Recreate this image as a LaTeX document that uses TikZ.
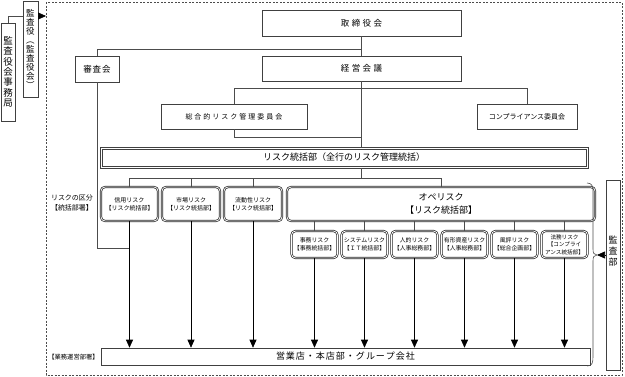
\documentclass[tikz,border=0pt]{standalone}
\usepackage{fontspec}
\setmainfont{Noto Sans CJK JP}
\usetikzlibrary{arrows.meta}
\begin{document}
\begin{tikzpicture}[x=1pt,y=-1pt,
  box/.style={draw=black!75, line width=0.6pt, inner sep=0pt, align=center},
  rbox/.style={draw=black!85, line width=0.7pt, double=white, double distance=0.8pt,
    rounded corners=4pt, inner sep=0pt, align=center, font=\fontsize{6}{8}\selectfont},
  sbox/.style={rbox, minimum width=46, minimum height=27, font=\fontsize{5.9}{7.8}\selectfont},
  conn/.style={draw=black!70, line width=0.6pt},
  arr/.style={draw=black, line width=0.6pt, -{Triangle[width=7pt,length=8pt]}},
  lbl/.style={inner sep=0pt, align=center}]
\useasboundingbox (0,0) rectangle (625,376);
% outer dashed frame
\draw[black!70, line width=0.6pt, dash pattern=on 2pt off 1.5pt] (46,2) rectangle (622,375);
\coordinate (dashL) at (46,16);
\coordinate (h49) at (0,49);
\coordinate (h88) at (0,88);
\coordinate (h137) at (0,137);
\coordinate (h178) at (0,178);
\coordinate (h248) at (0,248);
% audit boxes (left)
\node[box, minimum width=15, minimum height=96, font=\fontsize{8.5}{9.1}\selectfont] (kansayaku) at (30.5,49)
  {監\\査\\役\\︵\\監\\査\\役\\会\\︶};
\node[box, minimum width=14, minimum height=98, font=\fontsize{9.5}{10.4}\selectfont] (jimu) at (8,72)
  {監\\査\\役\\会\\事\\務\\局};
% top boxes
\node[box, minimum width=199, minimum height=26, font=\fontsize{8.5}{10}\selectfont] (tori) at (361.5,23)
  {取\kern2.5pt 締\kern2.5pt 役\kern2.5pt 会};
\node[box, minimum width=199, minimum height=25, font=\fontsize{8.5}{10}\selectfont] (keiei) at (361.5,68.5)
  {経\kern2.5pt 営\kern2.5pt 会\kern2.5pt 議};
\node[box, minimum width=44, minimum height=26, font=\fontsize{8.5}{10}\selectfont] (shinsa) at (97,69)
  {審\kern1pt 査\kern1pt 会};
\node[box, minimum width=146, minimum height=25, font=\fontsize{7}{9}\selectfont] (sogo) at (234,116.5)
  {総\kern2pt 合\kern2pt 的\kern2pt リ\kern2pt ス\kern2pt ク\kern2pt 管\kern2pt 理\kern2pt 委\kern2pt 員\kern2pt 会};
\node[box, minimum width=100, minimum height=25, font=\fontsize{7}{9}\selectfont] (compl) at (527,116.5)
  {コンプライアンス委員会};
\node[box, minimum width=488, minimum height=21, font=\fontsize{9}{11}\selectfont] (risk) at (344,157.5)
  {リスク統括部（全行のリスク管理統括）};
\draw[black!75, line width=0.5pt] ([shift={(2.2,2.2)}]risk.north west) rectangle ([shift={(-2.2,-2.2)}]risk.south east);
% risk category boxes
\node[lbl, font=\fontsize{7}{10}\selectfont] (kubun) at (72,203) {リスクの区分\\【統括部署】};
\node[rbox, minimum width=57, minimum height=34] (shinyo) at (129.5,204) {信用リスク\\【リスク統括部】};
\node[rbox, minimum width=58, minimum height=34] (shijo) at (191,204) {市場リスク\\【リスク統括部】};
\node[rbox, minimum width=58, minimum height=34] (ryudo) at (253,204) {流動性リスク\\【リスク統括部】};
\node[rbox, minimum width=308, minimum height=34, font=\fontsize{9}{13}\selectfont] (ope) at (441,204)
  {オペリスク\\【リスク統括部】};
% operational sub-boxes
\node[sbox] (s1) at (314.5,244.5) {事務リスク\\【事務統括部】};
\node[sbox] (s2) at (364.5,244.5) {システムリスク\\【ＩＴ統括部】};
\node[sbox] (s3) at (414.5,244.5) {人的リスク\\【人事総務部】};
\node[sbox] (s4) at (464.5,244.5) {有形資産リスク\\【人事総務部】};
\node[sbox] (s5) at (514.5,244.5) {風評リスク\\【総合企画部】};
\node[sbox, font=\fontsize{5.6}{7.4}\selectfont] (s6) at (564.5,244.5) {法務リスク\\【コンプライ\\アンス統括部】};
% bottom
\node[lbl, font=\fontsize{6.3}{8}\selectfont] (gyomu) at (73.5,357) {【業務運営部署】};
\node[box, minimum width=489, minimum height=17, font=\fontsize{9}{11}\selectfont] (eigyo) at (345.5,356.5)
  {営\kern1pt 業\kern1pt 店\kern1pt ・\kern1pt 本\kern1pt 店\kern1pt 部\kern1pt ・\kern1pt グ\kern1pt ル\kern1pt ー\kern1pt プ\kern1pt 会\kern1pt 社};
% audit department (right)
\node[box, minimum width=14, minimum height=190] (kansabu) at (613,275) {};
\node[lbl, font=\fontsize{9}{11}\selectfont] (kansabuT) at (613,251) {監\\査\\部};
\coordinate (bracetip) at (597,255);
\draw[conn] (587,183) .. controls (592,183) and (593,186) .. (593,192) -- (593,249)
  .. controls (593,253) and (594,255) .. (bracetip)
  .. controls (594,255) and (593,257) .. (593,261) -- (593,357)
  .. controls (593,363) and (592,366) .. (587,366);
\draw[arr] (kansabu.west |- bracetip) -- (bracetip);
% connectors
\draw[arr] (kansayaku.east |- dashL) -- (dashL);
\draw[conn] (jimu.north) |- (kansayaku.west |- dashL);
\draw[conn] (tori.south) -- (keiei.north);
\draw[conn] (tori.south |- h49) -| (shinsa.north);
\draw[conn] (sogo.north) -- (sogo.north |- h88) -| (compl.north);
\draw[conn] (keiei.south) -- (keiei.south |- risk.north);
\draw[conn] (sogo.south) |- (keiei.south |- h137);
\draw[conn] (keiei.south |- risk.south) -- (keiei.south |- h178);
\draw[conn] (shinyo.north) |- (ope.north |- h178) -- (ope.north);
\draw[conn] (shijo.north) -- (shijo.north |- h178);
\draw[conn] (ryudo.north) -- (ryudo.north |- h178);
\foreach \s in {s1,s2,s3,s4,s5,s6} {
  \draw[conn] (\s.north) -- (\s.north |- ope.south);
}
\draw[conn] (shinsa.south) |- (shinyo.south |- h248);
\foreach \s in {shinyo,shijo,ryudo,s1,s2,s3,s4,s5,s6} {
  \draw[arr] (\s.south) -- (\s.south |- eigyo.north);
}
\end{tikzpicture}
\end{document}
